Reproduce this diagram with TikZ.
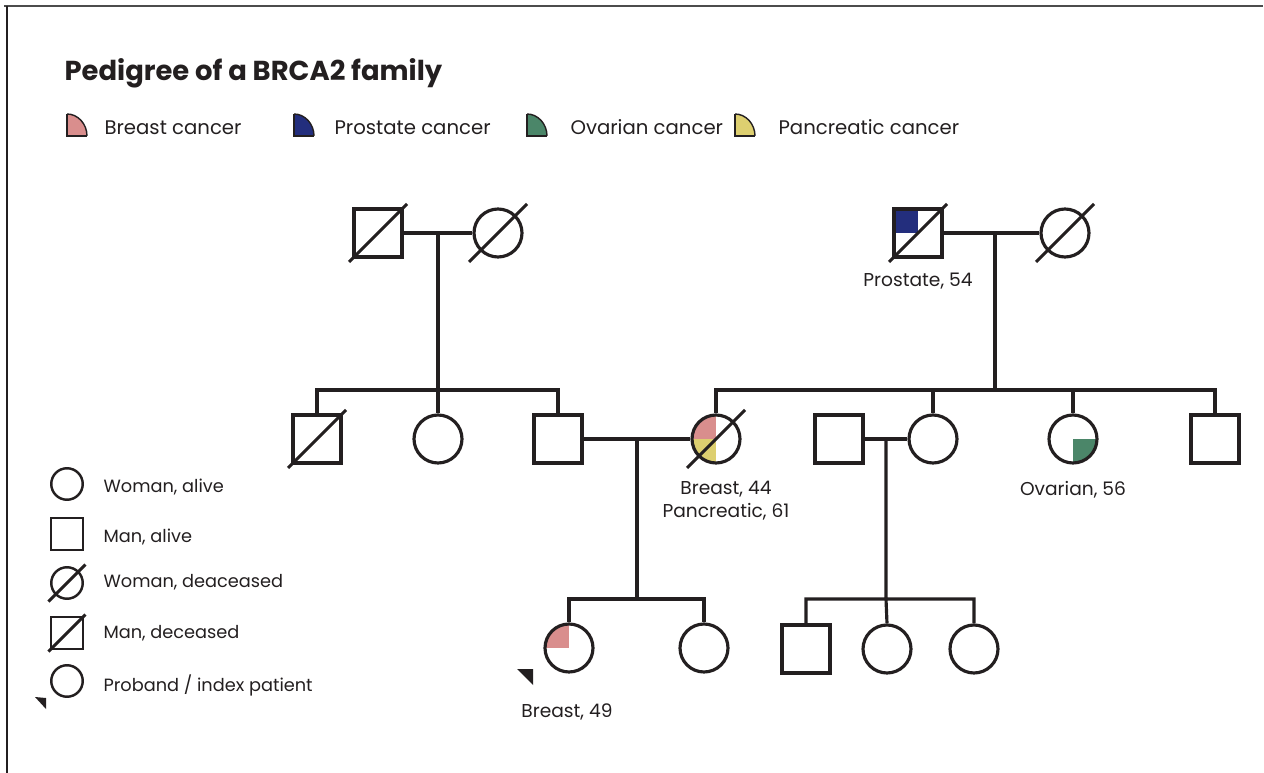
\documentclass[tikz,border=0pt]{standalone}
\usepackage{fontspec}
\setmainfont{Poppins}
\definecolor{ink}{HTML}{231F20}
\definecolor{breast}{HTML}{D98E8D}
\definecolor{prostate}{HTML}{232E7D}
\definecolor{ovarian}{HTML}{4B8669}
\definecolor{pancreas}{HTML}{DDCF70}
\newcommand\deceased[2][29]{\draw([shift={(-#1,#1)}]#2.center)--([shift={(#1,-#1)}]#2.center);}
\newcommand\cancericon[2]{\fill[#2](#1,136)--(#1,114)..controls(#1+11,114)and(#1+20,124)..(#1+20,136)--cycle;
  \draw[line width=0.8pt](#1,114)..controls(#1+11,114)and(#1+20,124)..(#1+20,136);
  \draw[line width=1.3pt](#1,114)--(#1,136)--(#1+20,136);}
\begin{document}
\begin{tikzpicture}[x=0.02cm,y=-0.02cm,line width=1.8pt,color=ink,
  man/.style={draw,rectangle,minimum size=0.96cm,inner sep=0pt},
  woman/.style={draw,circle,minimum size=0.96cm,inner sep=0pt},
  lman/.style={man,minimum size=0.63cm,line width=1.4pt},
  lwoman/.style={woman,minimum size=0.63cm,line width=1.4pt},
  lbl/.style={font=\fontsize{10.6}{13}\selectfont,text=ink,inner sep=0pt},
  key/.style={font=\fontsize{#1}{13}\selectfont,text=ink,inner sep=0pt},
  tl/.style={path picture={\fill[#1](path picture bounding box.center)rectangle(path picture bounding box.north west);}},
  br/.style={path picture={\fill[#1](path picture bounding box.center)rectangle(path picture bounding box.south east);}},
  tlbl/.style 2 args={path picture={\fill[#1](path picture bounding box.center)rectangle(path picture bounding box.north west);
    \fill[#2](path picture bounding box.center)rectangle(path picture bounding box.south west);}}]
\useasboundingbox(0,0)rectangle(1264,773);
\draw[line width=1.2pt,black!70](4,6)--(1263,6);
\draw[line width=1pt](7,6)--(7,773);
% title and cancer key
\node[anchor=base west,inner sep=0pt,font=\fontsize{15.6}{18}\selectfont\bfseries](title) at (63,81){Pedigree of a BRCA2 family};
\cancericon{67}{breast}
\cancericon{294}{prostate}
\cancericon{527}{ovarian}
\cancericon{735}{pancreas}
\node[key=11.2,anchor=base west](k1) at (103,135){Breast cancer};
\node[key=11.2,anchor=base west](k2) at (333,135){Prostate cancer};
\node[key=11.2,anchor=base west](k3) at (569,135){Ovarian cancer};
\node[key=11.2,anchor=base west](k4) at (777,135){Pancreatic cancer};
% generation I
\node[man](i1) at (378,233){};
\node[woman](i2) at (498,233){};
\node[man,tl=prostate](i3) at (918,233){};
\node[woman](i4) at (1065,233){};
% generation II
\node[man](ii1) at (317,439){};
\node[woman](ii2) at (438,439){};
\node[man](ii3) at (558,439){};
\node[woman,tlbl={breast}{pancreas}](ii4) at (716,439){};
\node[man](ii5) at (839,439){};
\node[woman](ii6) at (933,439){};
\node[woman,br=ovarian](ii7) at (1073,439){};
\node[man](ii8) at (1215,439){};
% generation III
\node[woman,tl=breast](iii1) at (569,648){};
\node[woman](iii2) at (704,648){};
\node[man](iii3) at (806,649){};
\node[woman](iii4) at (887,649){};
\node[woman](iii5) at (974,649){};
\deceased{i1}\deceased{i2}\deceased{i3}\deceased{i4}\deceased{ii1}\deceased{ii4}
% couples and sibships
\draw(i1)--(i2)coordinate[midway](m1) (i3)--(i4)coordinate[midway](m2)
(ii3)--(ii4)coordinate[midway](m3) (ii5)--(ii6)coordinate[midway](m4);
\coordinate(s1) at (438,390);
\coordinate(s2) at (995,390);
\coordinate(s3) at (637,599);
\coordinate(s4) at (886,599);
\draw(m1)--(s1) (ii1.north)|-(s1)-|(ii3.north) (ii2.north)--(s1);
\draw(m2-|s2)--(s2) (ii4.north)|-(s2)-|(ii8.north) (ii6.north)--(ii6.north|-s2) (ii7.north)--(ii7.north|-s2);
\draw(m3)--(s3) (iii1.north)|-(s3)-|(iii2.north);
\draw(m4)--(s4) (iii3.north)|-(s4)-|(iii5.north) (iii4.north)--(s4);
\fill(517,669)--(533,669)--(533,685)--cycle;
% labels
\node[lbl](lp) at (918,281){Prostate, 54};
\node[lbl,align=center](lb44) at (726,501){Breast, 44\\Pancreatic, 61};
\node[lbl](lo) at (1073,490){Ovarian, 56};
\node[lbl](lb49) at (567,712){Breast, 49};
% symbol key
\node[lwoman](s_wa) at (67,484){};
\node[lman](s_ma) at (67,534){};
\node[lwoman](s_wd) at (67,583){};
\node[lman](s_md) at (67,633){};
\node[lwoman](s_pr) at (67,681){};
\deceased[18.5]{s_wd}\deceased[18.5]{s_md}
\fill(35,697)--(46,698)--(46,709)--cycle;
\node[key=10.1,anchor=west](t_wa) at (102,487){Woman, alive};
\node[key=10.1,anchor=west](t_ma) at (102,537){Man, alive};
\node[key=10.1,anchor=west](t_wd) at (102,582){Woman, deaceased};
\node[key=10.1,anchor=west](t_md) at (102,633){Man, deceased};
\node[key=10.1,anchor=west](t_pr) at (102,685){Proband / index patient};
\end{tikzpicture}
\end{document}
